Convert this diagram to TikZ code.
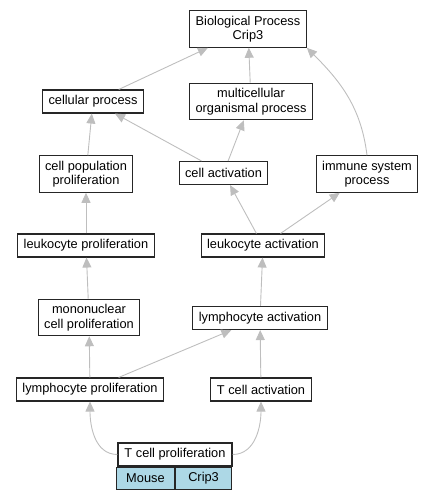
\documentclass[tikz,border=0pt]{standalone}
\usepackage{fontspec}
\setmainfont{Liberation Sans}
\usepackage{tikz}
\usetikzlibrary{arrows.meta}
\definecolor{linkgray}{HTML}{BEBEBE}
\definecolor{genebox}{HTML}{ADD8E6}

\begin{document}
\begin{tikzpicture}[
        x=1pt, y=-1pt,
        term/.style={rectangle,draw=black!85,line width=1.1pt,fill=white,
          inner xsep=6pt,inner ysep=5pt,minimum height=23pt,align=center,
          font=\fontsize{12.8}{14.5}\selectfont},
        cell/.style={rectangle,draw=black!85,line width=1.1pt,fill=genebox,
          inner sep=0pt,minimum height=22pt,
          font=\fontsize{12.8}{14.5}\selectfont},
        isa/.style={draw=linkgray,line width=0.9pt,
          -{Triangle[length=10pt,width=9pt,fill=linkgray]}}
      ]
      \useasboundingbox (0,0) rectangle (433,499);
      \node[term] (bp) at (248,29) {Biological Process\\Crip3};
      \node[term] (cp) at (93,101.5) {cellular process};
      \node[term] (mop) at (251,101.5) {multicellular\\organismal process};
      \node[term] (cpp) at (86,174) {cell population\\proliferation};
      \node[term] (ca) at (223.5,173) {cell activation};
      \node[term] (isp) at (367,174) {immune system\\process};
      \node[term] (lkp) at (86,245.5) {leukocyte proliferation};
      \node[term] (lka) at (263,245.5) {leukocyte activation};
      \node[term] (mcp) at (89,317.5) {mononuclear\\cell proliferation};
      \node[term] (lya) at (260,318) {lymphocyte activation};
      \node[term] (lyp) at (90,389.5) {lymphocyte proliferation};
      \node[term] (tca) at (261,389.5) {T cell activation};
      \node[term,minimum width=114pt] (tcp) at (175,454.5) {T cell proliferation};
      \node[cell,minimum width=58pt,anchor=north east] (mouse) at (tcp.south) {Mouse};
      \node[cell,minimum width=56pt,anchor=north west] (gene) at (tcp.south) {Crip3};
      \draw[isa] (cp) -- (bp);
      \draw[isa] (mop) -- (bp);
      \draw[isa] (isp.north) to[out=97,in=-45] (bp.south east);
      \draw[isa] (cpp) -- (cp);
      \draw[isa] (ca) -- (cp);
      \draw[isa] (ca) -- (mop);
      \draw[isa] (lkp) -- (cpp);
      \draw[isa] (lka) -- (ca);
      \draw[isa] (lka) -- (isp);
      \draw[isa] (mcp) -- (lkp);
      \draw[isa] (lya) -- (lka);
      \draw[isa] (lyp) -- (mcp);
      \draw[isa] (lyp) -- (lya);
      \draw[isa] (tca) -- (lya);
      \draw[isa] (tcp.west) to[out=180,in=-90] (lyp.south);
      \draw[isa] (tcp.east) to[out=0,in=-90] (tca.south);
    \end{tikzpicture}
\end{document}
